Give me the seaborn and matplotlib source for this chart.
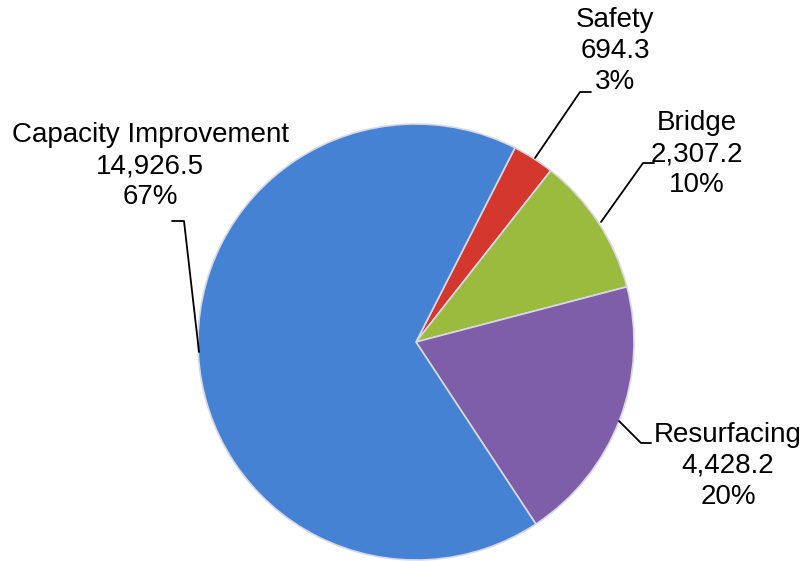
import matplotlib
matplotlib.use("Agg")
import matplotlib.pyplot as plt
import seaborn as sns

sns.set_theme(style="white")
plt.rcParams["font.family"] = ["Liberation Sans", "DejaVu Sans"]

categories = ["Safety", "Bridge", "Resurfacing", "Capacity Improvement"]
values = [694.3, 2307.2, 4428.2, 14926.5]
colors = ["#D3372D", "#9BBB3F", "#7F5EA9", "#4682D3"]

total = sum(values)
H = 561

fig = plt.figure(figsize=(8.06, 5.61), dpi=100)
ax = fig.add_axes([0, 0, 1, 1])

wedges, _ = ax.pie(
    values,
    colors=colors,
    startangle=63,
    counterclock=False,
    center=(416, H - 342),
    radius=218,
    wedgeprops=dict(edgecolor="#D8D8E4", linewidth=1.2),
)
ax.set_xlim(0, 806)
ax.set_ylim(0, H)
ax.set_aspect("equal")
ax.axis("off")

# label text positions (centre of block) and leader lines, in image pixels
label_pos = {
    "Safety": (615, 51),
    "Bridge": (697, 154),
    "Resurfacing": (728, 466),
    "Capacity Improvement": (150, 166),
}
leaders = {
    "Safety": [(535, 158), (580, 92), (591, 92)],
    "Bridge": [(601, 222), (643, 163), (654, 163)],
    "Resurfacing": [(619, 421), (641, 443), (651, 443)],
    "Capacity Improvement": [(172, 221), (184, 221), (199, 352)],
}

for cat, val in zip(categories, values):
    x, y = label_pos[cat]
    pct = round(val / total * 100)
    ax.text(x, H - y, f"{cat}\n{val:,.1f}\n{pct}%", ha="center", va="center",
            fontsize=20, color="black", linespacing=1.27)
    pts = leaders[cat]
    ax.plot([p[0] for p in pts], [H - p[1] for p in pts], color="black", lw=1.3)

fig.savefig("out.png", dpi=100)
